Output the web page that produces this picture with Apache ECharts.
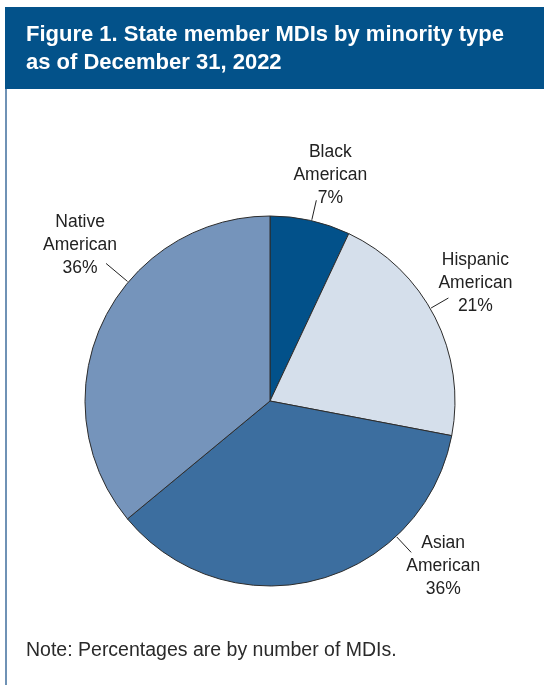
<!DOCTYPE html>
<html><head><meta charset="utf-8">
<script src="https://cdn.jsdelivr.net/npm/echarts@6/dist/echarts.min.js"></script>
<style>html,body{margin:0;padding:0;background:#fff}#c{width:544px;height:685px}</style>
</head><body><div id="c"></div>
<script>
const categories = ['Black\nAmerican', 'Hispanic\nAmerican', 'Asian\nAmerican', 'Native\nAmerican'];
const shares = [7, 21, 36, 36];
const colors = ['#02518a', '#d5dfeb', '#3c6e9f', '#7594bb'];
const titleLines = ['Figure 1. State member MDIs by minority type', 'as of December 31, 2022'];
const noteText = 'Note: Percentages are by number of MDIs.';

// label placement (layout only): leader-line angle (deg clockwise from top), outer radius, text offset from line end
const PIE_C = [270, 401], PIE_R = 185;
const labelPlace = [
  {ang: 13, r2: 206, dx: 14, dy: -25},
  {ang: 60, r2: 206, dx: 27, dy: -15},
  {ang: 137, r2: 207, dx: 32, dy: 14},
  {ang: 310, r2: 214, dx: -26, dy: -18}
];
function pt(ang, r) {
  const a = ang * Math.PI / 180;
  return [PIE_C[0] + r * Math.sin(a), PIE_C[1] - r * Math.cos(a)];
}

const chart = echarts.init(document.getElementById('c'), null, {renderer: 'canvas'});
chart.setOption({
  animation: false,
  backgroundColor: '#fff',
  graphic: [
    {type: 'rect', shape: {x: 5, y: 7, width: 539, height: 82}, style: {fill: '#03528a'}, z: 0},
    {type: 'line', shape: {x1: 6, y1: 89, x2: 6, y2: 685}, style: {stroke: '#3f6e9c', lineWidth: 1.5}, z: 0}
  ],
  title: [
    {text: titleLines.join('\n'), left: 21, top: 16,
     textStyle: {color: '#fff', fontFamily: 'Liberation Sans', fontWeight: 'bold', fontSize: 22, lineHeight: 28}},
    {text: noteText, left: 21, top: 636,
     textStyle: {color: '#2a2a2a', fontFamily: 'Liberation Sans', fontWeight: 'normal', fontSize: 19.5}}
  ],
  series: [{
    type: 'pie',
    center: PIE_C,
    radius: PIE_R,
    startAngle: 90,
    clockwise: true,
    avoidLabelOverlap: false,
    data: categories.map((c, i) => ({name: c, value: shares[i], itemStyle: {color: colors[i]}})),
    itemStyle: {borderColor: '#2d2d2d', borderWidth: 1},
    emphasis: {disabled: true},
    label: {
      show: true, position: 'outside',
      formatter: p => p.name + '\n' + p.value + '%',
      fontFamily: 'Liberation Sans', fontSize: 17.5, lineHeight: 23,
      color: '#222', align: 'center'
    },
    labelLine: {show: true, length: 20, length2: 0, lineStyle: {color: '#222', width: 1}},
    labelLayout: function (params) {
      const L = labelPlace[params.dataIndex];
      const p1 = pt(L.ang, PIE_R + 1), p2 = pt(L.ang, L.r2);
      return {
        x: p2[0] + L.dx, y: p2[1] + L.dy, align: 'center', verticalAlign: 'middle',
        labelLinePoints: [p1, p2, p2]
      };
    }
  }]
});
</script></body></html>
